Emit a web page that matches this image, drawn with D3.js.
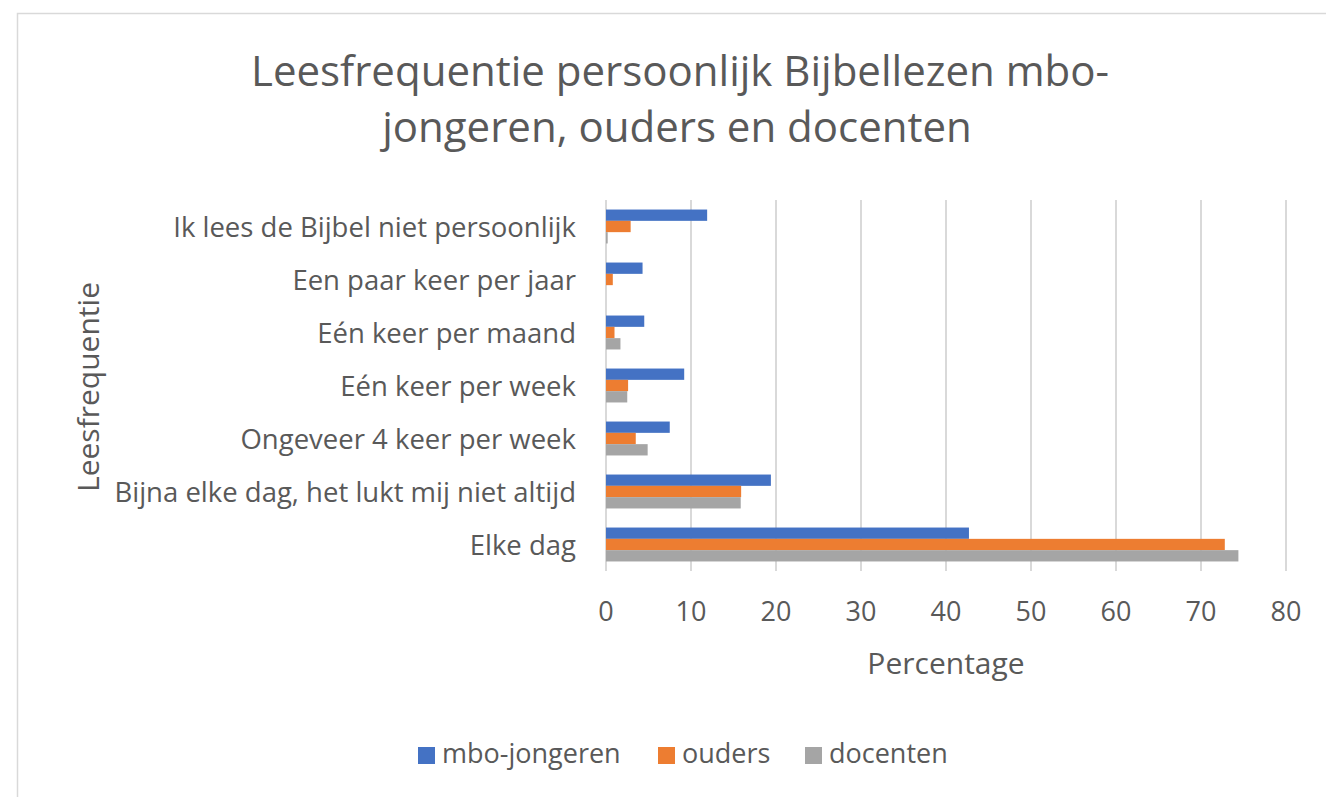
<!DOCTYPE html>
<html>
<head>
<meta charset="utf-8">
<script src="https://cdn.jsdelivr.net/npm/d3@7"></script>
<style>
  body { margin: 0; background: #fff; }
  svg text { font-family: "Open Sans", sans-serif; fill: #595959; }
</style>
</head>
<body>
<script>
// categories top to bottom, as shown
var categories = [
  "Ik lees de Bijbel niet persoonlijk",
  "Een paar keer per jaar",
  "Eén keer per maand",
  "Eén keer per week",
  "Ongeveer 4 keer per week",
  "Bijna elke dag, het lukt mij niet altijd",
  "Elke dag"
];
var seriesNames = ["mbo-jongeren", "ouders", "docenten"];
var jongeren = [11.9, 4.3, 4.5, 9.2, 7.5, 19.4, 42.7];
var ouders = [2.9, 0.8, 1.0, 2.6, 3.5, 15.9, 72.8];
var docenten = [0.2, 0, 1.7, 2.5, 4.9, 15.85, 74.4];
var xTicks = [0, 10, 20, 30, 40, 50, 60, 70, 80];
var colors = ["#4472C4", "#ED7D31", "#A5A5A5"];

var W = 1326, H = 797;
var plot = { left: 606, right: 1286, top: 200, bottom: 571 };

var svg = d3.select("body").append("svg")
  .attr("width", W).attr("height", H);

// chart frame (runs off the page right and bottom)
svg.append("rect")
  .attr("x", 17.5).attr("y", 13.5)
  .attr("width", 1400).attr("height", 900)
  .attr("fill", "#fff").attr("stroke", "#d9d9d9").attr("stroke-width", 1.5);

// title
var title = svg.append("text")
  .attr("text-anchor", "middle")
  .style("font-size", "42px");
title.append("tspan").attr("x", 680).attr("y", 86).text("Leesfrequentie persoonlijk Bijbellezen mbo-");
title.append("tspan").attr("x", 677).attr("y", 142).text("jongeren, ouders en docenten");

var x = d3.scaleLinear().domain([0, 80]).range([plot.left, plot.right]);
var y = d3.scaleBand().domain(categories).range([plot.top, plot.bottom])
  .paddingInner(0.36).paddingOuter(0.18);
var ySub = d3.scaleBand().domain(seriesNames).range([0, y.bandwidth()]);

// gridlines
svg.append("g").selectAll("line")
  .data(xTicks)
  .enter().append("line")
  .attr("x1", d => x(d)).attr("x2", d => x(d))
  .attr("y1", plot.top).attr("y2", plot.bottom)
  .attr("stroke", "#d9d9d9").attr("stroke-width", 2);

// bars
var data = [jongeren, ouders, docenten];
seriesNames.forEach(function(name, s) {
  svg.append("g").selectAll("rect")
    .data(data[s])
    .enter().append("rect")
    .attr("x", x(0))
    .attr("y", (d, i) => y(categories[i]) + ySub(name))
    .attr("width", d => x(d) - x(0))
    .attr("height", ySub.bandwidth())
    .attr("fill", colors[s]);
});

// x axis labels
svg.append("g").selectAll("text")
  .data(xTicks)
  .enter().append("text")
  .attr("x", d => x(d)).attr("y", 621)
  .attr("text-anchor", "middle")
  .style("font-size", "27px")
  .text(d => d);

// category labels
svg.append("g").selectAll("text")
  .data(categories)
  .enter().append("text")
  .attr("x", 576)
  .attr("y", d => y(d) + y.bandwidth() / 2 + 10)
  .attr("text-anchor", "end")
  .style("font-size", "27.5px")
  .text(d => d);

// axis titles
svg.append("text")
  .attr("x", 946).attr("y", 674)
  .attr("text-anchor", "middle")
  .style("font-size", "30px")
  .text("Percentage");

svg.append("text")
  .attr("transform", "translate(99,387) rotate(-90)")
  .attr("text-anchor", "middle")
  .style("font-size", "30px")
  .text("Leesfrequentie");

// legend
var legendX = [418, 658, 805];
var legend = svg.append("g").selectAll("g")
  .data(seriesNames)
  .enter().append("g")
  .attr("transform", (d, i) => "translate(" + legendX[i] + ",747)");
legend.append("rect")
  .attr("width", 17).attr("height", 17)
  .attr("fill", (d, i) => colors[i]);
legend.append("text")
  .attr("x", 24).attr("y", 16)
  .style("font-size", "27px")
  .text(d => d);
</script>
</body>
</html>
